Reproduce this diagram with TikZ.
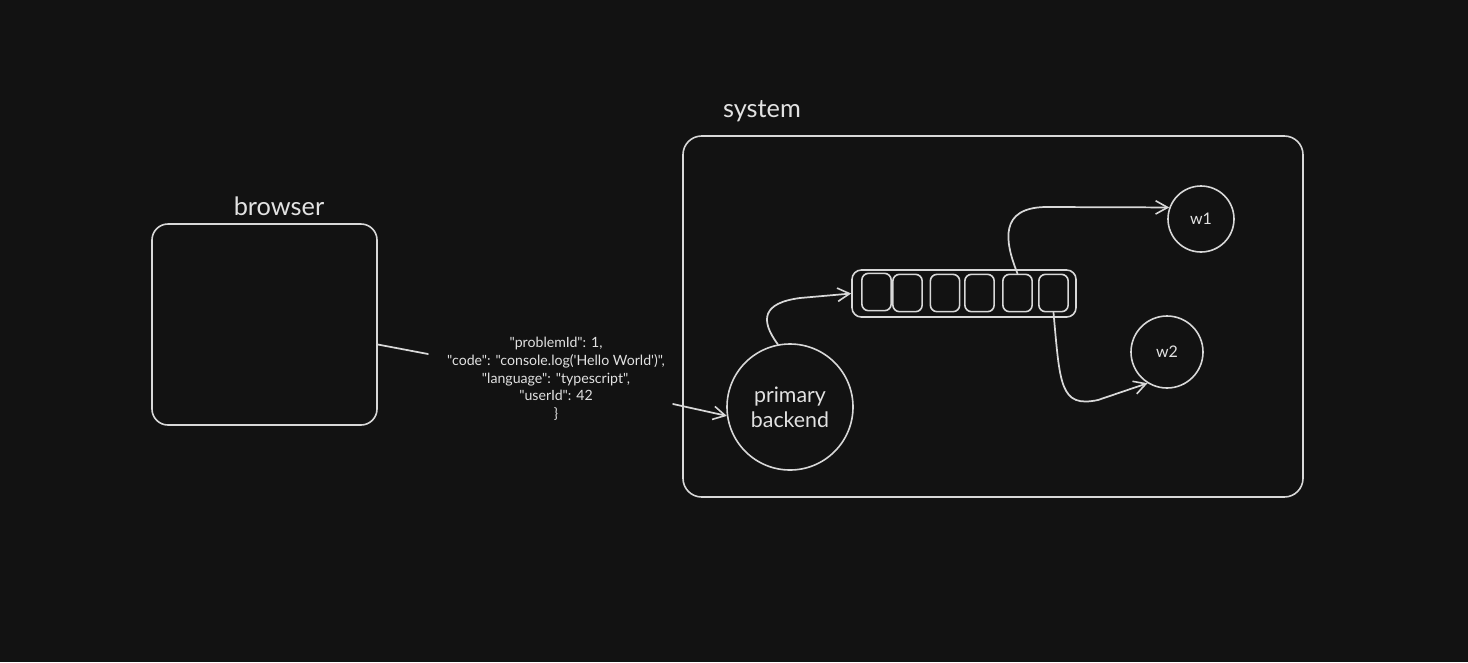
\documentclass[tikz,border=0pt]{standalone}
\usepackage{fontspec}
\usetikzlibrary{arrows.meta,calc}
\newfontfamily\hand{Lato}
\definecolor{canvas}{HTML}{121212}
\definecolor{ink}{HTML}{D8D8D8}
\definecolor{txt}{HTML}{E2E2E2}
\begin{document}
\begin{tikzpicture}[x=0.75pt,y=-0.75pt,
  every node/.style={font=\hand, text=txt},
  box/.style={draw=ink, line width=1.2pt, rounded corners=#1, inner sep=0pt},
  cell/.style={box=5pt, minimum width=22pt, minimum height=28pt},
  ball/.style={draw=ink, line width=1.2pt, circle, inner sep=0pt, align=center},
  wire/.style={draw=ink, line width=1.3pt, line cap=round},
  arr/.style={wire, -{Straight Barb[length=9pt,width=10pt,line width=1.2pt]}},
  title/.style={font=\hand\fontsize{19}{22}\selectfont}]

% page
\fill[canvas] (0,0) rectangle (1468,662);
\useasboundingbox (0,0) rectangle (1468,662);

% browser
\node[box=12pt, minimum width=168.75pt, minimum height=150.75pt] (b) at (264.5,324.5) {};
\node[title] (blab) at (279,206) {browser};

% system frame
\node[box=14pt, minimum width=465pt, minimum height=270.75pt] (sys) at (993,316.5) {};
\node[title] (slab) at (762,111) {system};

% request payload
\coordinate (jl) at (428,354);
\coordinate (jr) at (673,404);
\node[font=\hand\fontsize{10.6}{13.2}\selectfont, align=center] (json) at (556,379)
 {"problemId": 1,\\
  "code": "console.log({\char"27}Hello World{\char"27})",\\
  "language": "typescript",\\
  "userId": 42\\
  \}};
\draw[wire] ($(b.east)+(0,20)$) -- (jl);

% primary backend
\node[ball, minimum size=94.5pt, font=\hand\fontsize{16}{19}\selectfont] (pb) at (790,407) {primary\\backend};
\draw[arr] (jr) -- (pb.188);

% queue
\node[box=7pt, minimum width=168pt, minimum height=35.25pt] (q) at (964,293.5) {};
\node[cell] (c1) at (876.5,292) {};
\node[cell] (c2) at (907.5,293) {};
\node[cell] (c3) at (945,293) {};
\node[cell] (c4) at (979.5,293) {};
\node[cell] (c5) at (1017.5,293) {};
\node[cell] (c6) at (1053.5,293) {};

% workers
\node[ball, minimum size=49.5pt, font=\hand\fontsize{12}{14}\selectfont] (w1) at (1201,219) {w1};
\node[ball, minimum size=54pt, font=\hand\fontsize{12}{14}\selectfont] (w2) at (1167,352) {w2};

% flows
\draw[arr] (pb.101) .. controls (760,320) and (762,303) .. (800,298) -- (q.west);
\draw[arr] (c5.north) .. controls (1004,240) and (1000,208) .. (1045,207) -- (w1.160);
\draw[arr] (c6.south) .. controls (1060,385) and (1060,408) .. (1098,400) -- (w2.238);
\end{tikzpicture}
\end{document}
